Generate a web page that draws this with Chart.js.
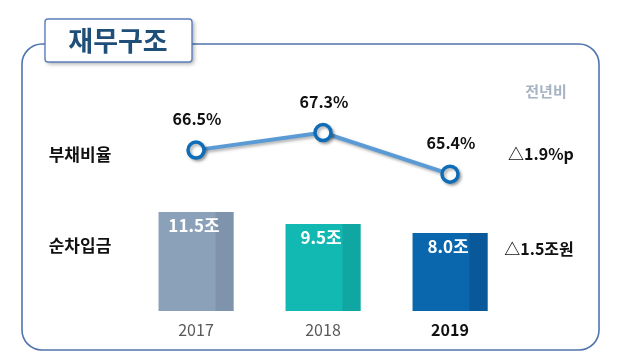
<!DOCTYPE html>
<html>
<head>
<meta charset="utf-8">
<script src="https://cdn.jsdelivr.net/npm/chart.js@4"></script>
<style>
  html, body { margin: 0; padding: 0; background: #fff; }
  #wrap { width: 618px; height: 362px; position: relative; }
</style>
</head>
<body>
<div id="wrap"><canvas id="chart" width="618" height="362"></canvas></div>
<script>
// data
const years = ['2017', '2018', '2019'];
const debtRatio = [66.5, 67.3, 65.4];   // 부채비율 (%)
const netDebt = [11.5, 9.5, 8.0];       // 순차입금 (조)
const rowLabels = ['부채비율', '순차입금'];
const yoyTitle = '전년비';
const yoyLabels = ['△1.9%p', '△1.5조원'];

const FONT = '"Noto Sans CJK KR", "Noto Sans", sans-serif';
const barColors = ['#8ba0b9', '#12b8b2', '#0a67ad'];
const barShade = ['#7f93ad', '#10a7a2', '#08589a'];

function roundRect(ctx, x, y, w, h, r) {
  ctx.beginPath();
  ctx.moveTo(x + r, y);
  ctx.lineTo(x + w - r, y);
  ctx.arcTo(x + w, y, x + w, y + r, r);
  ctx.lineTo(x + w, y + h - r);
  ctx.arcTo(x + w, y + h, x + w - r, y + h, r);
  ctx.lineTo(x + r, y + h);
  ctx.arcTo(x, y + h, x, y + h - r, r);
  ctx.lineTo(x, y + r);
  ctx.arcTo(x, y, x + r, y, r);
  ctx.closePath();
}

// frame, title box and side texts
const decor = {
  id: 'decor',
  beforeDraw(chart) {
    const ctx = chart.ctx;
    ctx.save();
    ctx.strokeStyle = '#4f74ad';
    ctx.lineWidth = 1.6;
    roundRect(ctx, 22, 44, 577, 306, 20);
    ctx.stroke();

    // title box
    ctx.shadowColor = 'rgba(0,0,0,0.35)';
    ctx.shadowBlur = 4;
    ctx.shadowOffsetX = 2;
    ctx.shadowOffsetY = 2;
    ctx.fillStyle = '#fff';
    roundRect(ctx, 45, 19, 147, 43, 3);
    ctx.fill();
    ctx.shadowColor = 'transparent';
    ctx.strokeStyle = '#5b7fbf';
    ctx.lineWidth = 1.4;
    ctx.stroke();

    ctx.fillStyle = '#1f4e79';
    ctx.font = 'bold 27px ' + FONT;
    ctx.textAlign = 'center';
    ctx.textBaseline = 'middle';
    ctx.fillText('재무구조', 118, 41);

    ctx.fillStyle = '#111';
    ctx.font = 'bold 17px ' + FONT;
    ctx.fillText(rowLabels[0], 80, 155);
    ctx.fillText(rowLabels[1], 80, 246);

    ctx.fillStyle = '#a6b3c4';
    ctx.font = 'bold 15px ' + FONT;
    ctx.fillText(yoyTitle, 546, 91);
    ctx.fillStyle = '#111';
    ctx.font = 'bold 16px ' + FONT;
    ctx.fillText(yoyLabels[0], 541, 154);
    ctx.fillText(yoyLabels[1], 539, 249);

    // year labels under the bars
    const xs = chart.scales.x;
    years.forEach((yr, i) => {
      const last = i === years.length - 1;
      ctx.fillStyle = last ? '#111' : '#595959';
      ctx.font = (last ? 'bold ' : '') + '16px ' + FONT;
      ctx.fillText(yr, xs.getPixelForValue(i), 330);
    });
    ctx.restore();
  },
  beforeDatasetDraw(chart, args) {
    if (args.meta.type === 'line') {
      const ctx = chart.ctx;
      ctx.save();
      ctx.shadowColor = 'rgba(0,0,0,0.3)';
      ctx.shadowBlur = 3;
      ctx.shadowOffsetX = 2;
      ctx.shadowOffsetY = 2;
    }
  },
  afterDatasetDraw(chart, args) {
    const ctx = chart.ctx;
    if (args.meta.type === 'line') { ctx.restore(); return; }
    // darker right strip on each bar
    args.meta.data.forEach((bar, i) => {
      const p = bar.getProps(['x', 'y', 'base', 'width'], true);
      ctx.fillStyle = barShade[i];
      ctx.fillRect(p.x + p.width / 2 - 18, p.y, 18, p.base - p.y);
    });
  },
  afterDatasetsDraw(chart) {
    const ctx = chart.ctx;
    ctx.save();
    ctx.textAlign = 'center';
    ctx.textBaseline = 'middle';
    const lineMeta = chart.getDatasetMeta(0);
    ctx.fillStyle = '#111';
    ctx.font = 'bold 16px ' + FONT;
    lineMeta.data.forEach((pt, i) => {
      ctx.fillText(debtRatio[i].toFixed(1) + '%', pt.x + 1, pt.y - 31);
    });
    const barMeta = chart.getDatasetMeta(1);
    ctx.fillStyle = '#fff';
    ctx.font = 'bold 17px ' + FONT;
    barMeta.data.forEach((bar, i) => {
      ctx.fillText(netDebt[i].toFixed(1) + '조', bar.x - 2, bar.y + 14);
    });
    ctx.restore();
  }
};

new Chart(document.getElementById('chart'), {
  data: {
    labels: years,
    datasets: [
      {
        type: 'line',
        data: debtRatio,
        yAxisID: 'yLine',
        order: 0,
        borderColor: '#5b9bd5',
        borderWidth: 4,
        pointRadius: 8,
        pointBorderWidth: 3.5,
        pointBorderColor: '#0f6cb6',
        pointBackgroundColor: '#fff',
        tension: 0
      },
      {
        type: 'bar',
        data: netDebt,
        yAxisID: 'yBar',
        base: -5,
        order: 1,
        backgroundColor: barColors,
        categoryPercentage: 1,
        barPercentage: 0.59
      }
    ]
  },
  options: {
    responsive: false,
    animation: false,
    layout: { padding: { left: 132.5, right: 104.5, top: 50, bottom: 51 } },
    plugins: { legend: { display: false }, tooltip: { enabled: false } },
    scales: {
      x: { display: false },
      yBar: { display: false, min: -5, max: 38.5 },
      yLine: { display: false, min: 59.155, max: 71.07 }
    }
  },
  plugins: [decor]
});
</script>
</body>
</html>
